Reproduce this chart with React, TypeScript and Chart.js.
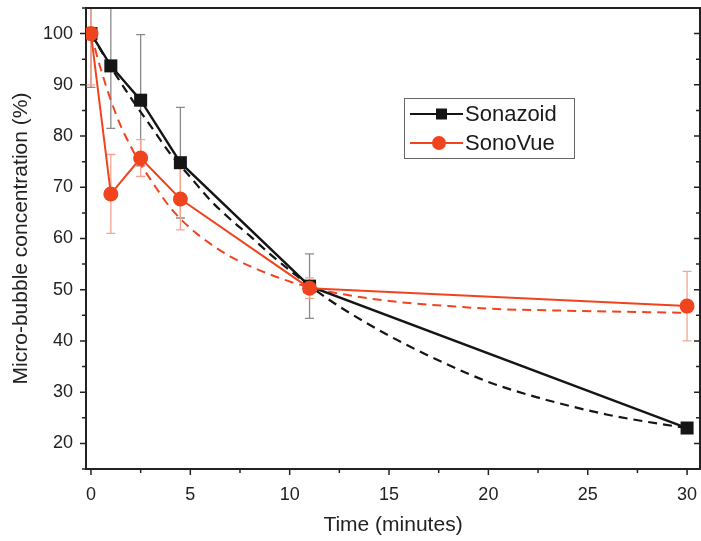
import React, { useEffect, useRef } from 'react';
import { Chart, registerables } from 'chart.js';

Chart.register(...registerables);

// ---- data ----
const times = [0, 1, 2.5, 4.5, 11, 30];
const sonazoid = [100, 93.7, 87, 74.8, 50.7, 23];
const sonazoidErr = [10.5, 12.2, 12.8, 10.8, 6.3, 0];
const sonovue = [100, 68.7, 75.7, 67.7, 50.3, 46.8];
const sonovueErr = [10, 7.7, 3.6, 6, 2, 6.8];

const sonazoidFitT = [0, 1, 2, 3, 4, 5, 6, 7, 8, 9, 10, 11, 12, 14, 16, 18, 20, 22, 24, 26, 28, 30];
const sonazoidFitY = [100, 93.5, 87.5, 82, 76.5, 72, 67.5, 63.8, 60.5, 57, 53.8, 50.8, 48, 43.2, 39, 35.3, 32, 29.5, 27.4, 25.6, 24.2, 23];
const sonovueFitT = [0, 0.5, 1, 1.5, 2, 2.5, 3, 4, 5, 6, 7, 8, 9, 10, 11, 12, 14, 16, 18, 20, 24, 30];
const sonovueFitY = [100, 93, 87, 82, 78, 74.5, 71.5, 66, 62, 59, 56.5, 54.6, 53, 51.6, 50.5, 49.6, 48.3, 47.4, 46.8, 46.3, 45.9, 45.5];

const xLabelValues = [0, 5, 10, 15, 20, 25, 30];
const xMinorValues = [2.5, 7.5, 12.5, 17.5, 22.5, 27.5];
const yLabelValues = [20, 30, 40, 50, 60, 70, 80, 90, 100];
const yMinorValues = [15, 25, 35, 45, 55, 65, 75, 85, 95, 105];

const seriesNames = ['Sonazoid', 'SonoVue'];

const BLACK = '#151515';
const RED = '#f0441f';
const FONT = "'Liberation Sans', Arial, sans-serif";

const toPts = (xs: number[], ys: number[]) => xs.map((x, i) => ({ x, y: ys[i] }));

const errorBarPlugin = {
  id: 'errorBars',
  beforeDatasetsDraw(chart: any) {
    const { ctx, chartArea, scales } = chart;
    const xs = scales.x;
    const ys = scales.y;
    ctx.save();
    ctx.beginPath();
    ctx.rect(chartArea.left, chartArea.top, chartArea.right - chartArea.left, chartArea.bottom - chartArea.top);
    ctx.clip();
    const draw = (vals: number[], errs: number[], color: string) => {
      ctx.strokeStyle = color;
      ctx.lineWidth = 1.3;
      vals.forEach((v, i) => {
        if (!errs[i]) return;
        const px = xs.getPixelForValue(times[i]);
        const top = ys.getPixelForValue(v + errs[i]);
        const bot = ys.getPixelForValue(v - errs[i]);
        ctx.beginPath();
        ctx.moveTo(px, top);
        ctx.lineTo(px, bot);
        ctx.moveTo(px - 4.5, top);
        ctx.lineTo(px + 4.5, top);
        ctx.moveTo(px - 4.5, bot);
        ctx.lineTo(px + 4.5, bot);
        ctx.stroke();
      });
    };
    draw(sonazoid, sonazoidErr, '#8a8a8a');
    draw(sonovue, sonovueErr, '#f4a58f');
    ctx.restore();
  },
};

const framePlugin = {
  id: 'frame',
  afterDraw(chart: any) {
    const { ctx, chartArea, scales } = chart;
    const { left, right, top, bottom } = chartArea;
    ctx.save();
    ctx.strokeStyle = '#222';
    ctx.lineWidth = 2;
    ctx.beginPath();
    ctx.moveTo(left - 1, top);
    ctx.lineTo(right, top);
    ctx.lineTo(right, bottom);
    ctx.stroke();
    ctx.lineWidth = 1.5;
    const xTick = (v: number, len: number) => {
      const px = scales.x.getPixelForValue(v);
      ctx.beginPath();
      ctx.moveTo(px, bottom);
      ctx.lineTo(px, bottom + len);
      ctx.stroke();
    };
    xLabelValues.forEach((v) => xTick(v, 6));
    xMinorValues.forEach((v) => xTick(v, 4));
    const yTick = (v: number, len: number) => {
      const py = scales.y.getPixelForValue(v);
      ctx.beginPath();
      ctx.moveTo(left, py);
      ctx.lineTo(left - len, py);
      ctx.moveTo(right, py);
      ctx.lineTo(right - len, py);
      ctx.stroke();
    };
    yLabelValues.forEach((v) => yTick(v, 6));
    yMinorValues.forEach((v) => yTick(v, 4));
    // legend
    const bx = 404, by = 98, bw = 170, bh = 60;
    ctx.lineWidth = 1;
    ctx.strokeStyle = '#666';
    ctx.fillStyle = '#ffffff';
    ctx.fillRect(bx, by, bw, bh);
    ctx.strokeRect(bx + 0.5, by + 0.5, bw, bh);
    const rows = [
      { y: 114, color: BLACK, shape: 'square' },
      { y: 143, color: RED, shape: 'circle' },
    ];
    rows.forEach((r, i) => {
      ctx.strokeStyle = r.color;
      ctx.lineWidth = 2;
      ctx.beginPath();
      ctx.moveTo(410, r.y);
      ctx.lineTo(463, r.y);
      ctx.stroke();
      ctx.fillStyle = r.color;
      if (r.shape === 'square') {
        ctx.fillRect(436, r.y - 5.5, 11, 11);
      } else {
        ctx.beginPath();
        ctx.arc(439, r.y, 7, 0, Math.PI * 2);
        ctx.fill();
      }
      ctx.fillStyle = '#1a1a1a';
      ctx.font = `22px ${FONT}`;
      ctx.textBaseline = 'middle';
      ctx.textAlign = 'left';
      ctx.fillText(seriesNames[i], 465, r.y + 1);
    });
    ctx.restore();
  },
};

export default function App() {
  const ref = useRef<HTMLCanvasElement | null>(null);
  useEffect(() => {
    if (!ref.current) return;
    const chart = new Chart(ref.current, {
      type: 'line',
      data: {
        datasets: [
          {
            label: 'Sonazoid fit',
            data: toPts(sonazoidFitT, sonazoidFitY),
            borderColor: BLACK,
            borderWidth: 2.2,
            borderDash: [9, 6],
            pointRadius: 0,
            cubicInterpolationMode: 'monotone',
            fill: false,
            order: 3,
          },
          {
            label: 'SonoVue fit',
            data: toPts(sonovueFitT, sonovueFitY),
            borderColor: RED,
            borderWidth: 2,
            borderDash: [9, 6],
            pointRadius: 0,
            cubicInterpolationMode: 'monotone',
            fill: false,
            order: 2,
          },
          {
            label: seriesNames[0],
            data: toPts(times, sonazoid),
            borderColor: BLACK,
            backgroundColor: BLACK,
            borderWidth: 2.4,
            pointStyle: 'rect',
            pointRadius: 9.2,
            pointBorderWidth: 0,
            tension: 0,
            fill: false,
            order: 1,
          },
          {
            label: seriesNames[1],
            data: toPts(times, sonovue),
            borderColor: RED,
            backgroundColor: RED,
            borderWidth: 2,
            pointStyle: 'circle',
            pointRadius: 7.5,
            pointBorderWidth: 0,
            tension: 0,
            fill: false,
            order: 0,
          },
        ],
      },
      options: {
        animation: false,
        responsive: false,
        layout: { autoPadding: false, padding: { left: 0, right: 1, top: 8, bottom: 0 } },
        plugins: {
          legend: { display: false },
          tooltip: { enabled: false },
        },
        scales: {
          x: {
            type: 'linear',
            min: -0.25,
            max: 30.65,
            afterFit: (s: any) => { s.height = 72; s.paddingLeft = 0; s.paddingRight = 0; },
            afterBuildTicks: (s: any) => { s.ticks = xLabelValues.map((v) => ({ value: v })); },
            grid: { drawOnChartArea: false, drawTicks: true, tickLength: 6, tickColor: 'transparent' },
            border: { display: true, color: '#222', width: 2 },
            ticks: {
              autoSkip: false,
              maxRotation: 0,
              padding: 9,
              color: '#222',
              font: { family: FONT, size: 18 },
              callback: (v: any) => String(v),
            },
            title: {
              display: true,
              text: 'Time (minutes)',
              color: '#222',
              font: { family: FONT, size: 21 },
              padding: { top: 0, bottom: 3 },
            },
          },
          y: {
            type: 'linear',
            min: 15,
            max: 105,
            afterFit: (s: any) => { s.width = 86; s.paddingTop = 0; s.paddingBottom = 0; },
            afterBuildTicks: (s: any) => { s.ticks = yLabelValues.map((v) => ({ value: v })); },
            grid: { drawOnChartArea: false, drawTicks: true, tickLength: 6, tickColor: 'transparent' },
            border: { display: true, color: '#222', width: 2 },
            ticks: {
              autoSkip: false,
              padding: 7,
              color: '#222',
              font: { family: FONT, size: 18 },
              callback: (v: any) => String(v),
            },
            title: {
              display: true,
              text: 'Micro-bubble concentration (%)',
              color: '#222',
              font: { family: FONT, size: 21 },
              padding: { top: 9, bottom: 0 },
            },
          },
        },
      },
      plugins: [errorBarPlugin, framePlugin],
    } as any);
    return () => chart.destroy();
  }, []);
  return (
    <div style={{ position: 'fixed', left: 0, top: 0, width: 701, height: 541, background: '#fff' }}>
      <canvas ref={ref} width={701} height={541} style={{ display: 'block' }} />
    </div>
  );
}
